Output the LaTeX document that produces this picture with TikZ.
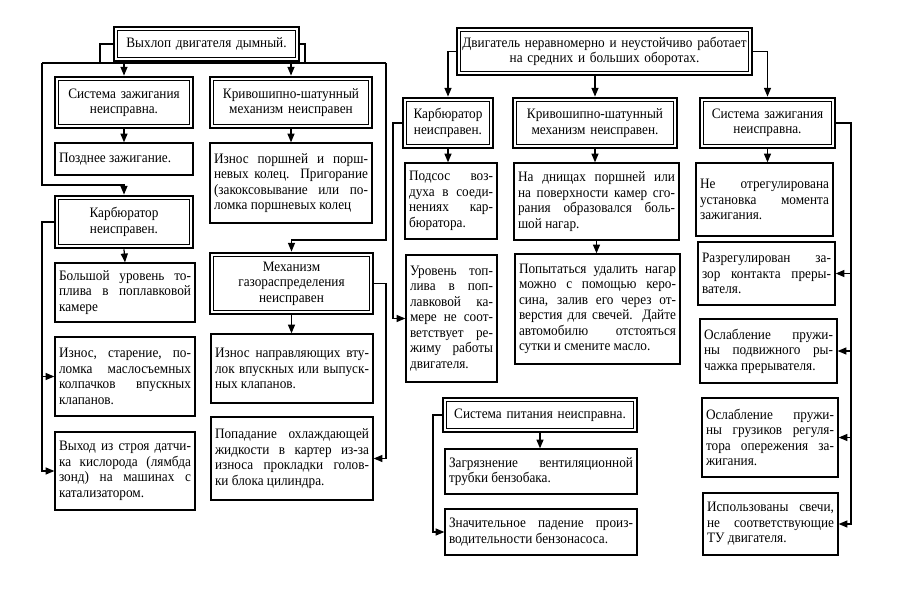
\documentclass[tikz,border=0pt]{standalone}
\usepackage{fontspec}
\setmainfont{Liberation Serif}[FakeStretch=0.92]
\usetikzlibrary{arrows.meta}

\tikzset{
    fact/.style={draw, line width=0.75pt, inner xsep=0.08cm, inner ysep=2pt,
        font=\fontsize{8.2}{8.8}\selectfont, align=justify},
    cause/.style={fact, line width=1.6pt, align=center},
    link/.style={line width=0.7pt},
    arr/.style={link, -{Triangle[length=5pt,width=4pt]}},
}

\begin{document}
\begin{tikzpicture}[x=0.02cm, y=-0.02cm]
    \useasboundingbox (0,0) rectangle (900,598);

    \node[cause, text width=3.54cm, minimum height=0.68cm] (t1) at (206.5,44) {Выхлоп двигателя дымный.};
    \node[cause, text width=2.60cm, minimum height=1.02cm] (a1) at (124,102.5) {Система зажигания\\неисправна.};
    \node[fact, text width=2.60cm, minimum height=0.64cm] (a2) at (124,159) {Позднее зажигание.};
    \node[cause, text width=2.60cm, minimum height=1.04cm] (a3) at (124,222) {Карбюратор\\неисправен.};
    \node[fact, text width=2.64cm, minimum height=1.18cm] (a4) at (125,292.5) {Большой уровень то-\linebreak плива в поплавковой\linebreak камере};
    \node[fact, text width=2.64cm, minimum height=1.58cm] (a5) at (125,376.5) {Износ, старение, по-\linebreak ломка маслосъемных\linebreak колпачков впускных\linebreak клапанов.};
    \node[fact, text width=2.64cm, minimum height=1.56cm] (a6) at (125,471) {Выход из строя датчи-\linebreak ка кислорода (лямбда\linebreak зонд) на машинах с\linebreak катализатором.};

    \node[cause, text width=3.08cm, minimum height=1.02cm] (b1) at (291,102.5) {Кривошипно-шатунный\\механизм неисправен};
    \node[fact, text width=3.08cm, minimum height=1.60cm] (b2) at (291,183) {Износ поршней и порш-\linebreak невых колец. Пригорание\linebreak (закоксовывание или по-\linebreak ломка поршневых колец};
    \node[cause, text width=3.10cm, minimum height=1.22cm] (b3) at (291.5,283.5) {Механизм\\газораспределения\\неисправен};
    \node[fact, text width=3.08cm, minimum height=1.38cm] (b4) at (292,368.5) {Износ направляющих вту-\linebreak лок впускных или выпуск-\linebreak ных клапанов.};
    \node[fact, text width=3.08cm, minimum height=1.66cm] (b5) at (292,458.5) {Попадание охлаждающей\linebreak жидкости в картер из-за\linebreak износа прокладки голов-\linebreak ки блока цилиндра.};

    \node[cause, text width=5.74cm, minimum height=0.94cm] (t2) at (604.5,51.5) {Двигатель неравномерно и неустойчиво работает\\на средних и больших оборотах.};
    \node[cause, text width=1.64cm, minimum height=1.00cm] (c1) at (448,123) {Карбюратор\\неисправен.};
    \node[fact, text width=1.68cm, minimum height=1.52cm] (c2) at (451,201) {Подсос воз-\linebreak духа в соеди-\linebreak нениях кар-\linebreak бюратора.};
    \node[fact, text width=1.66cm, minimum height=2.54cm] (c3) at (451.5,318.5) {Уровень топ-\linebreak лива в поп-\linebreak лавковой ка-\linebreak мере не соот-\linebreak ветствует ре-\linebreak жиму работы\linebreak двигателя.};

    \node[cause, text width=3.12cm, minimum height=1.00cm] (d1) at (595,123) {Кривошипно-шатунный\\механизм неисправен.};
    \node[fact, text width=3.14cm, minimum height=1.54cm] (d2) at (596.5,201.5) {На днищах поршней или\linebreak на поверхности камер сго-\linebreak рания образовался боль-\linebreak шой нагар.};
    \node[fact, text width=3.14cm, minimum height=2.20cm] (d3) at (597.5,309) {Попытаться удалить нагар\linebreak можно с помощью керо-\linebreak сина, залив его через от-\linebreak верстия для свечей. Дайте\linebreak автомобилю отстояться\linebreak сутки и смените масло.};

    \node[cause, text width=2.54cm, minimum height=1.00cm] (e1) at (767.5,123) {Система зажигания\\неисправна.};
    \node[fact, text width=2.58cm, minimum height=1.46cm] (e2) at (764.5,199.5) {Не отрегулирована\linebreak установка момента\linebreak зажигания.};
    \node[fact, text width=2.58cm, minimum height=1.26cm] (e3) at (766.5,273.5) {Разрегулирован за-\linebreak зор контакта преры-\linebreak вателя.};
    \node[fact, text width=2.58cm, minimum height=1.28cm] (e4) at (768.5,351) {Ослабление пружи-\linebreak ны подвижного ры-\linebreak чажка прерывателя.};
    \node[fact, text width=2.56cm, minimum height=1.58cm] (e5) at (770,437.5) {Ослабление пружи-\linebreak ны грузиков регуля-\linebreak тора опережения за-\linebreak жигания.};
    \node[fact, text width=2.54cm, minimum height=1.24cm] (e6) at (770.5,524) {Использованы свечи,\linebreak не соответствующие\linebreak ТУ двигателя.};

    \node[cause, text width=3.72cm, minimum height=0.68cm] (f1) at (540,415) {Система питания неисправна.};
    \node[fact, text width=3.68cm, minimum height=0.90cm] (f2) at (541,471.5) {Загрязнение вентиляционной\linebreak трубки бензобака.};
    \node[fact, text width=3.68cm, minimum height=0.92cm] (f3) at (541,532) {Значительное падение произ-\linebreak водительности бензонасоса.};

    \foreach \n in {t1,a1,a3,b1,b3,t2,c1,d1,e1,f1}
        \draw[line width=0.6pt] ([shift={(0.1cm,-0.1cm)}]\n.north west) rectangle ([shift={(-0.1cm,0.1cm)}]\n.south east);

    \coordinate (busl) at (42,63);
    \coordinate (busr) at (386,63);
    \coordinate (jl) at (100,63);
    \coordinate (jr) at (305,63);
    \coordinate (ka) at (42,185);
    \coordinate (kb) at (386,240);
    \coordinate (cbus) at (393,123);
    \coordinate (ebus) at (851,123);
    \coordinate (fbus) at (433,415);

    \draw[link] (t1.west) -| (jl);
    \draw[link] (t1.east) -| (jr);
    \draw[link] (busl) -- (busr);
    \draw[arr] (a1.north |- busl) -- (a1.north);
    \draw[arr] (b1.north |- busl) -- (b1.north);
    \draw[arr] (a1.south) -- (a2.north);
    \draw[arr] (busl) -- (ka) -| (a3.north);
    \draw[arr] (a3.south) -- (a4.north);
    \draw[arr] (a3.west) -- (a3.west -| busl) |- (a6.west);
    \draw[arr] (a5.west -| busl) -- (a5.west);
    \draw[arr] (b1.south) -- (b2.north);
    \draw[arr] (busr) -- (kb) -| (b3.north);
    \draw[arr] (b3.south) -- (b3.south |- b4.north);
    \draw[arr] (b3.east) -- (b3.east -| busr) |- (b5.east);

    \draw[arr] (t2.west) -| (c1.north);
    \draw[arr] (d1.north |- t2.south) -- (d1.north);
    \draw[arr] (t2.east) -| (e1.north);
    \draw[arr] (c1.south) -- (c1.south |- c2.north);
    \draw[arr] (c1.west) -- (cbus) |- (c3.west);
    \draw[arr] (d1.south) -- (d1.south |- d2.north);
    \draw[arr] (d2.south) -- (d2.south |- d3.north);
    \draw[arr] (e1.south) -- (e1.south |- e2.north);
    \draw[arr] (e1.east) -- (ebus) |- (e6.east);
    \foreach \n in {e3,e4,e5}
        \draw[arr] (\n.east -| ebus) -- (\n.east);
    \draw[arr] (f1.south) -- (f1.south |- f2.north);
    \draw[arr] (f1.west) -- (fbus) |- (f3.west);

\end{tikzpicture}
\end{document}
